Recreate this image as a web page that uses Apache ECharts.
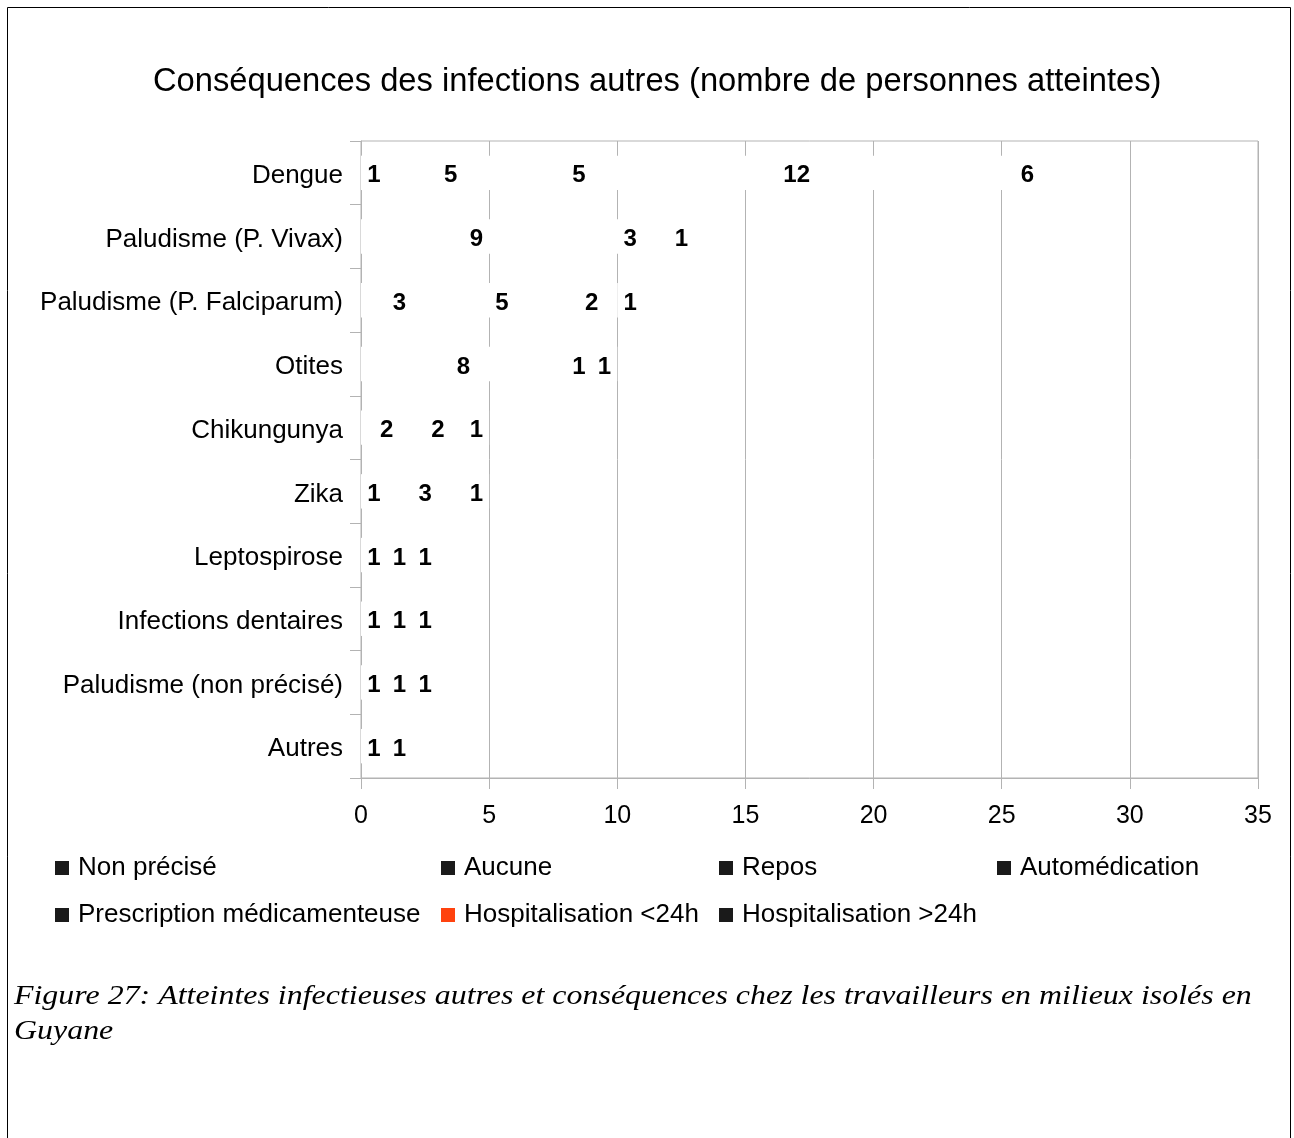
<!DOCTYPE html>
<html>
<head>
<meta charset="utf-8">
<script src="https://cdn.jsdelivr.net/npm/echarts@6/dist/echarts.min.js"></script>
<style>
  html, body { margin: 0; padding: 0; background: #fff; }
  #chart { width: 1294px; height: 1138px; }
</style>
</head>
<body>
<div id="chart"></div>
<script>
// categories, top to bottom
const categories = [
  'Dengue', 'Paludisme (P. Vivax)', 'Paludisme (P. Falciparum)', 'Otites',
  'Chikungunya', 'Zika', 'Leptospirose', 'Infections dentaires',
  'Paludisme (non précisé)', 'Autres'
]
const seriesNames = [
  'Non précisé', 'Aucune', 'Repos', 'Automédication',
  'Prescription médicamenteuse', 'Hospitalisation <24h', 'Hospitalisation >24h'
]
// values per series, in category order
const nonPrecise    = [1, 0, 0, 0, 0, 1, 0, 0, 0, 0]
const aucune        = [5, 0, 3, 0, 2, 3, 0, 1, 0, 1]
const repos         = [5, 9, 5, 8, 2, 1, 1, 0, 1, 1]
const automedication = [0, 0, 0, 1, 1, 0, 0, 1, 0, 0]
const prescription  = [12, 3, 2, 1, 0, 0, 1, 1, 1, 0]
const hospMoins24   = [0, 0, 0, 0, 0, 0, 0, 0, 0, 0]
const hospPlus24    = [6, 1, 1, 0, 0, 0, 1, 0, 1, 0]
const seriesValues = [nonPrecise, aucune, repos, automedication, prescription, hospMoins24, hospPlus24]
const legendColors = ['#1a1a1a', '#1a1a1a', '#1a1a1a', '#1a1a1a', '#1a1a1a', '#ff420e', '#1a1a1a']
const xTicks = [0, 5, 10, 15, 20, 25, 30, 35]

// legend slots (manual grid, like the office export)
const legendPos = [
  [55, 855], [441, 855], [719, 855], [997, 855],
  [55, 902], [441, 902], [719, 902]
]

let mychart = echarts.init(document.getElementById('chart'))

const font = 'Liberation Sans, Arial, sans-serif'

mychart.setOption({
  animation: false,
  title: {
    text: 'Conséquences des infections autres (nombre de personnes atteintes)',
    left: 153,
    top: 65,
    padding: 0,
    textStyle: { fontFamily: font, fontSize: 32.7, fontWeight: 'normal', color: '#000' },
  },
  legend: seriesNames.map((name, i) => ({
    left: legendPos[i][0],
    top: legendPos[i][1],
    padding: 0,
    icon: 'rect',
    itemWidth: 14,
    itemHeight: 14,
    selectedMode: false,
    data: [{ name: name, itemStyle: { color: legendColors[i] } }],
    textStyle: { fontFamily: font, fontSize: 26, color: '#000', padding: [0, 0, 0, 4] },
  })),
  grid: {
    left: 361,
    right: 36,
    top: 141,
    bottom: 360,
    show: true,
    borderColor: '#b3b3b3',
    borderWidth: 1,
  },
  xAxis: {
    type: 'value',
    min: xTicks[0],
    max: xTicks[xTicks.length - 1],
    interval: 5,
    axisLine: { show: true, lineStyle: { color: '#b3b3b3' } },
    axisTick: { show: true, length: 11, lineStyle: { color: '#b3b3b3' } },
    splitLine: { show: true, lineStyle: { color: '#b3b3b3' } },
    axisLabel: { fontFamily: font, fontSize: 25, color: '#000', margin: 26 },
  },
  yAxis: {
    type: 'category',
    inverse: true,
    data: categories,
    axisLine: { show: true, lineStyle: { color: '#b3b3b3' } },
    axisTick: { show: true, length: 11, lineStyle: { color: '#b3b3b3' } },
    axisLabel: {
      color: '#000',
      margin: 18,
      formatter: '{c|{value}}',
      rich: { c: { fontFamily: font, fontSize: 26, color: '#000', padding: [6, 0, 0, 0] } },
    },
  },
  series: seriesNames.map((name, i) => ({
    name: name,
    type: 'bar',
    stack: 'total',
    barWidth: '54%',
    data: seriesValues[i],
    itemStyle: { color: '#ffffff' },
    label: {
      show: true,
      position: 'inside',
      offset: [0, 3],
      fontFamily: font,
      fontSize: 24,
      fontWeight: 'bold',
      color: '#000',
      formatter: (p) => (p.value > 0 ? p.value : ''),
    },
  })),
  graphic: [
    {
      type: 'rect',
      shape: { x: 7.5, y: 7.5, width: 1283, height: 1200 },
      style: { fill: 'none', stroke: '#000', lineWidth: 1 },
      silent: true,
    },
    {
      type: 'text',
      x: 14,
      y: 979,
      scaleX: 1.14,
      style: {
        text: 'Figure 27: Atteintes infectieuses autres et conséquences chez les travailleurs en milieux isolés en\nGuyane',
        font: 'italic 28px "Liberation Serif", "Times New Roman", serif',
        fill: '#000',
        lineHeight: 35,
      },
    },
  ],
})
</script>
</body>
</html>
